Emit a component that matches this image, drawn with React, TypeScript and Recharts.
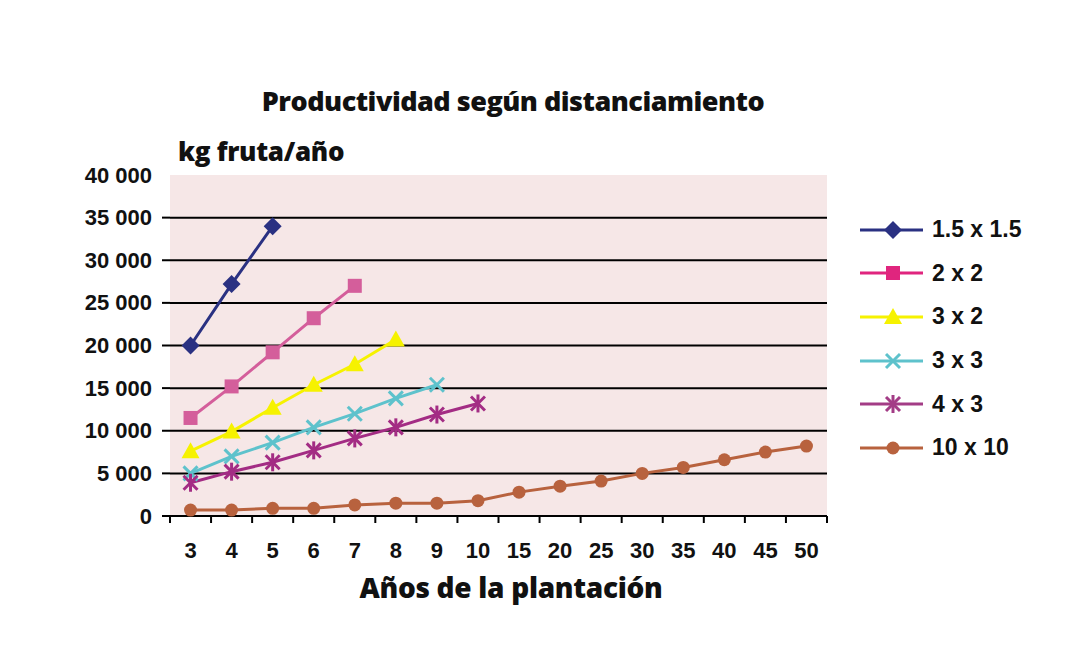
import React from 'react';
import { LineChart, Line, XAxis, YAxis, ReferenceLine, ReferenceArea } from 'recharts';

const categories = ['3', '4', '5', '6', '7', '8', '9', '10', '15', '20', '25', '30', '35', '40', '45', '50'];
const s15 = [20000, 27200, 34000, null, null, null, null, null, null, null, null, null, null, null, null, null];
const s22 = [11500, 15200, 19200, 23200, 27000, null, null, null, null, null, null, null, null, null, null, null];
const s32 = [7600, 9900, 12700, 15400, 17800, 20700, null, null, null, null, null, null, null, null, null, null];
const s33 = [5000, 7000, 8600, 10400, 12000, 13800, 15400, null, null, null, null, null, null, null, null, null];
const s43 = [3900, 5200, 6300, 7700, 9100, 10400, 11900, 13200, null, null, null, null, null, null, null, null];
const s1010 = [700, 700, 900, 900, 1300, 1500, 1500, 1800, 2800, 3500, 4100, 5000, 5700, 6600, 7500, 8200];
const yTicks = [0, 5000, 10000, 15000, 20000, 25000, 30000, 35000, 40000];
const gridValues = [5000, 10000, 15000, 20000, 25000, 30000, 35000];

const seriesNames = ['1.5 x 1.5', '2 x 2', '3 x 2', '3 x 3', '4 x 3', '10 x 10'];
const seriesValues = [s15, s22, s32, s33, s43, s1010];
const seriesColors = ['#2A3182', '#D45E9B', '#F6F200', '#5EC2CC', '#A32C84', '#B8623E'];
const legendColors = ['#2A3182', '#E0257E', '#F6F200', '#5EC2CC', '#A33C86', '#B8623E'];
const seriesShapes = ['diamond', 'square', 'triangle', 'x', 'asterisk', 'circle'];

const data = categories.map((c, i) => {
  const row: any = { cat: c };
  seriesValues.forEach((s, k) => { row['s' + k] = s[i]; });
  return row;
});

const W = 1050;
const H = 633;
const M = { top: 167, right: 231, bottom: 75, left: 62 };
const YW = 100;
const PLOT_W = W - M.left - YW - M.right;
const BW = PLOT_W / categories.length;
const TICK_FONT = "'Liberation Sans', Arial, sans-serif";
const TITLE_FONT = "'Open Sans', 'Noto Sans', sans-serif";

const fmt = (v: number) => String(v).replace(/\B(?=(\d{3})+(?!\d))/g, ' ');

function Marker({ shape, cx, cy, color }: any) {
  if (cx == null || cy == null || isNaN(cx) || isNaN(cy)) return <g />;
  switch (shape) {
    case 'diamond':
      return <polygon points={`${cx},${cy - 9} ${cx + 9},${cy} ${cx},${cy + 9} ${cx - 9},${cy}`} fill={color} />;
    case 'square':
      return <rect x={cx - 7} y={cy - 7} width={14} height={14} fill={color} />;
    case 'triangle':
      return <polygon points={`${cx},${cy - 9} ${cx + 9},${cy + 7} ${cx - 9},${cy + 7}`} fill={color} />;
    case 'x':
      return (
        <g stroke={color} strokeWidth={3}>
          <line x1={cx - 7} y1={cy - 7} x2={cx + 7} y2={cy + 7} />
          <line x1={cx - 7} y1={cy + 7} x2={cx + 7} y2={cy - 7} />
        </g>
      );
    case 'asterisk':
      return (
        <g stroke={color} strokeWidth={3}>
          <line x1={cx - 7} y1={cy - 7} x2={cx + 7} y2={cy + 7} />
          <line x1={cx - 7} y1={cy + 7} x2={cx + 7} y2={cy - 7} />
          <line x1={cx} y1={cy - 9} x2={cx} y2={cy + 9} />
        </g>
      );
    default:
      return <circle cx={cx} cy={cy} r={6.5} fill={color} />;
  }
}

function XTick(props: any) {
  const { x, y, payload, index } = props;
  const last = index === categories.length - 1;
  return (
    <g>
      <line x1={x - BW / 2} x2={x - BW / 2} y1={y} y2={y + 7} stroke="#000" strokeWidth={2} />
      {last && <line x1={x + BW / 2} x2={x + BW / 2} y1={y} y2={y + 7} stroke="#000" strokeWidth={2} />}
      <text x={x} y={y + 34} textAnchor="middle" dominantBaseline="central" fontFamily={TICK_FONT} fontWeight={700} fontSize={22} fill="#111">
        {payload.value}
      </text>
    </g>
  );
}

function YTick(props: any) {
  const { x, y, payload } = props;
  return (
    <g>
      {payload.value < 40000 && <line x1={x - 8} x2={x} y1={y} y2={y} stroke="#000" strokeWidth={2} />}
      <text x={x - 18} y={y} textAnchor="end" dominantBaseline="central" fontFamily={TICK_FONT} fontWeight={700} fontSize={22} fill="#111">
        {fmt(payload.value)}
      </text>
    </g>
  );
}

function LegendIcon({ shape, color }: any) {
  return (
    <svg width={70} height={24} style={{ display: 'block' }}>
      <line x1={0} x2={63} y1={12} y2={12} stroke={color} strokeWidth={3} />
      <Marker shape={shape} cx={33} cy={12} color={color} />
    </svg>
  );
}

export default function App() {
  return (
    <div style={{ position: 'relative', width: W, height: H, background: '#fff' }}>
      <div style={{ position: 'absolute', left: 0, width: 1010, top: 77, textAlign: 'center', fontFamily: TITLE_FONT, fontWeight: 800, fontSize: 27, lineHeight: '32px', color: '#111', letterSpacing: -0.5 }}>
        Productividad según distanciamiento
      </div>
      <div style={{ position: 'absolute', left: 170, top: 128, fontFamily: TITLE_FONT, fontWeight: 800, fontSize: 26, lineHeight: '30px', color: '#111', letterSpacing: -0.3 }}>
        kg fruta/año
      </div>
      <div style={{ position: 'absolute', left: 0, width: 1006, top: 563, textAlign: 'center', fontFamily: TITLE_FONT, fontWeight: 800, fontSize: 28, lineHeight: '32px', color: '#111', letterSpacing: -0.3 }}>
        Años de la plantación
      </div>
      <LineChart width={W} height={H} data={data} margin={M}>
        <XAxis dataKey="cat" scale="band" interval={0} tickLine={false} tickSize={0} tickMargin={0} height={50}
          axisLine={{ stroke: '#000', strokeWidth: 2 }} tick={<XTick />} />
        <YAxis domain={[0, 40000]} ticks={yTicks} width={YW} axisLine={false} tickLine={false} tickSize={0} tickMargin={0} tick={<YTick />} />
        <ReferenceArea y1={0} y2={40000} fill="#F6E7E7" fillOpacity={1} stroke="none" ifOverflow="visible" />
        {gridValues.map((v) => (
          <ReferenceLine key={v} y={v} stroke="#000" strokeWidth={2} />
        ))}
        {seriesNames.map((n, k) => (
          <Line key={n} dataKey={'s' + k} name={n} stroke={seriesColors[k]} strokeWidth={3} isAnimationActive={false}
            dot={(p: any) => <Marker key={n + p.index} shape={seriesShapes[k]} cx={p.cx} cy={p.cy} color={seriesColors[k]} />}
            activeDot={false} />
        ))}
      </LineChart>
      <div style={{ position: 'absolute', left: 852, top: 200 }}>
        {seriesNames.map((n, k) => (
          <div key={n} style={{ display: 'flex', alignItems: 'center', height: 43.6 }}>
            <LegendIcon shape={seriesShapes[k]} color={legendColors[k]} />
            <span style={{ marginLeft: 2, fontFamily: TICK_FONT, fontWeight: 700, fontSize: 23, color: '#111' }}>{n}</span>
          </div>
        ))}
      </div>
    </div>
  );
}
